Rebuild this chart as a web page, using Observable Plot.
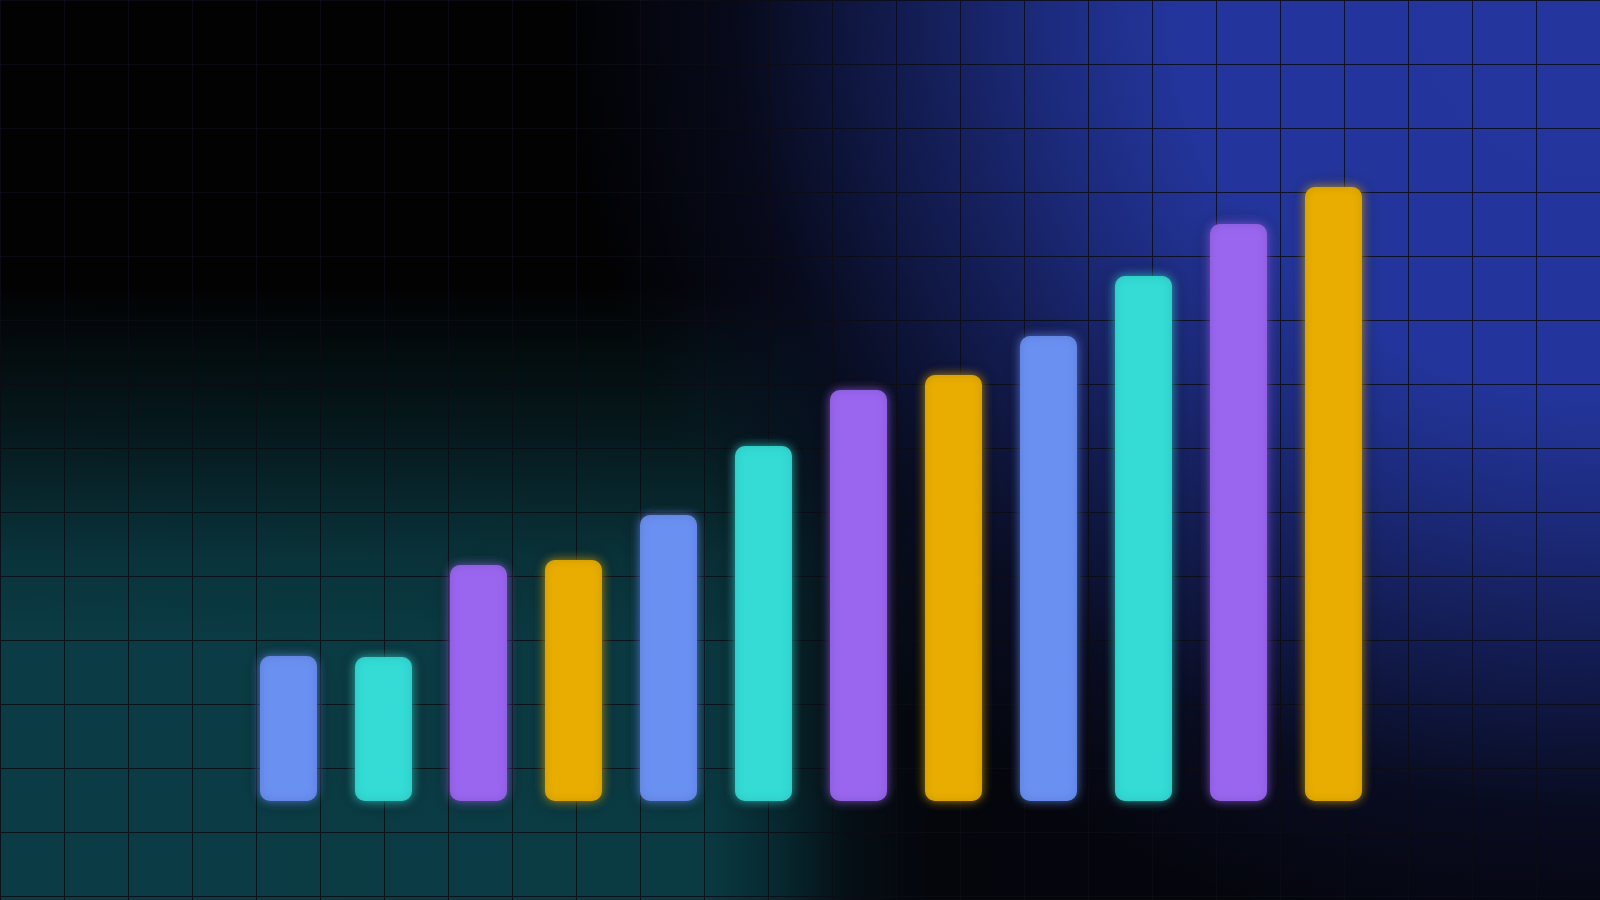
<!DOCTYPE html>
<html>
<head>
<meta charset="utf-8">
<script src="https://cdn.jsdelivr.net/npm/d3@7"></script>
<script src="https://cdn.jsdelivr.net/npm/@observablehq/plot@0.6"></script>
<style>
  html, body { margin: 0; padding: 0; background: #000; }
  #stage { position: relative; width: 1600px; height: 900px; overflow: hidden; }
  .layer { position: absolute; left: 0; top: 0; width: 1600px; height: 900px; }
  #bgBase { background: linear-gradient(to right, #0b3c45 0%, #0a3a42 44%, #07262d 49%, #050f15 53%, #04060c 58%, #04050c 100%); }
  #bgBlack { background: linear-gradient(to bottom, #020203 0%, #020203 32%, rgba(2,2,3,0.6) 48%, rgba(2,2,3,0.15) 62%, rgba(2,2,3,0) 72%); }
  #bgBlue {
    background: radial-gradient(ellipse 1060px 980px at 100% 0%, #24369e 0%, #23359c 40%, rgba(35,53,156,0.8) 52%, rgba(35,53,156,0.5) 66%, rgba(35,53,156,0.15) 82%, rgba(35,53,156,0) 98%);
  }
  #grid {
    background-image:
      linear-gradient(to right, rgba(40,40,48,0.22) 1px, transparent 1px),
      linear-gradient(to bottom, rgba(40,40,48,0.22) 1px, transparent 1px),
      linear-gradient(to right, rgba(0,2,10,0.8) 1px, transparent 1px),
      linear-gradient(to bottom, rgba(0,2,10,0.8) 1px, transparent 1px);
    background-size: 64px 64px;
    background-position: 0 0;
  }
  #chart { position: absolute; left: 0; top: 0; }
</style>
</head>
<body>
<div id="stage">
  <div class="layer" id="bgBase"></div>
  <div class="layer" id="bgBlack"></div>
  <div class="layer" id="bgBlue"></div>
  <div class="layer" id="grid"></div>
  <div id="chart"></div>
</div>
<script>
// Data (bar heights in pixel-like units)
const categories = ["B1","B2","B3","B4","B5","B6","B7","B8","B9","B10","B11","B12"];
const values = [145, 144, 236, 241, 286, 355, 411, 426, 465, 525, 577, 614];
const barSeries = ["S1","S2","S3","S4","S1","S2","S3","S4","S1","S2","S3","S4"];
const seriesNames = ["S1","S2","S3","S4"];
const palette = ["#6a90f2","#36dcd5","#9a66ef","#e8ad05"];

const data = categories.map((c, i) => ({cat: c, value: values[i], series: barSeries[i]}));

const chart = Plot.plot({
  width: 1600,
  height: 900,
  margin: 0,
  style: {background: "transparent", overflow: "visible"},
  x: {type: "band", domain: categories, range: [222, 1400], padding: 0.4, axis: null},
  y: {domain: [0, 700], range: [801, 101], axis: null},
  color: {type: "ordinal", domain: seriesNames, range: palette},
  marks: [
    Plot.barY(data, {x: "cat", y: "value", fill: "series", rx: 10, ry: 10})
  ]
});

const svg = d3.select(chart);
const defs = svg.insert("defs", ":first-child");
const f = defs.append("filter").attr("id", "barGlow")
  .attr("x", "-60%").attr("y", "-20%").attr("width", "220%").attr("height", "140%");
// dark soft shadow
f.append("feGaussianBlur").attr("in", "SourceAlpha").attr("stdDeviation", 10).attr("result", "sb");
f.append("feFlood").attr("flood-color", "#000").attr("flood-opacity", 0.45).attr("result", "sc");
f.append("feComposite").attr("in", "sc").attr("in2", "sb").attr("operator", "in").attr("result", "shadow");
// colored glow
f.append("feGaussianBlur").attr("in", "SourceGraphic").attr("stdDeviation", 4).attr("result", "gb");
f.append("feComponentTransfer").attr("in", "gb").attr("result", "glow")
  .append("feFuncA").attr("type", "linear").attr("slope", 0.6);
// inner edge shading
f.append("feGaussianBlur").attr("in", "SourceAlpha").attr("stdDeviation", 5).attr("result", "ab");
f.append("feComposite").attr("in", "SourceAlpha").attr("in2", "ab").attr("operator", "arithmetic")
  .attr("k1", 0).attr("k2", 1).attr("k3", -1).attr("k4", 0).attr("result", "edge");
f.append("feFlood").attr("flood-color", "#000").attr("flood-opacity", 0.25).attr("result", "ec");
f.append("feComposite").attr("in", "ec").attr("in2", "edge").attr("operator", "in").attr("result", "inner");
const m = f.append("feMerge");
m.append("feMergeNode").attr("in", "shadow");
m.append("feMergeNode").attr("in", "glow");
m.append("feMergeNode").attr("in", "SourceGraphic");
m.append("feMergeNode").attr("in", "inner");

svg.selectAll("rect").attr("filter", "url(#barGlow)");

document.getElementById("chart").appendChild(chart);
</script>
</body>
</html>
